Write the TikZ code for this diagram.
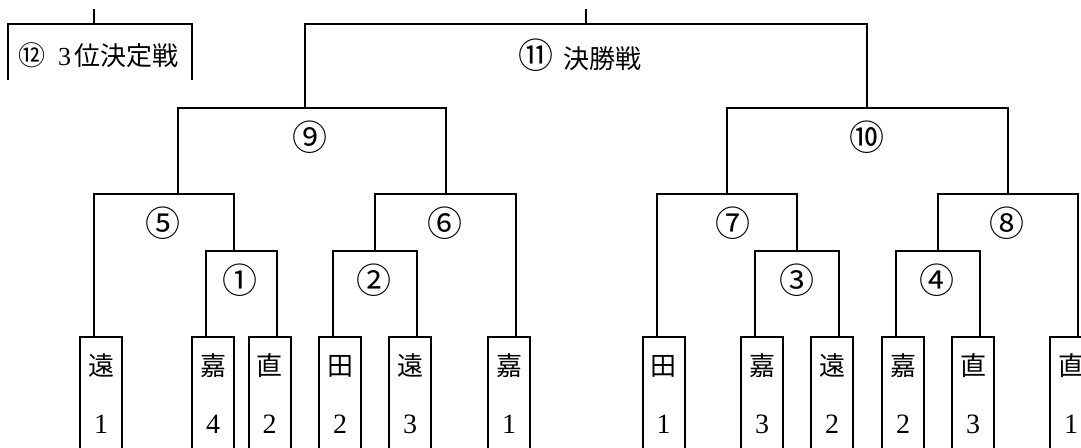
\documentclass[tikz,border=0pt]{standalone}
\usepackage{fontspec}
\newfontfamily\cjk{Noto Sans CJK JP}
\newfontfamily\dgfont{Liberation Serif}
\begin{document}
\begin{tikzpicture}[x=1pt,y=-1pt,
  ln/.style={line width=2pt, line join=miter},
  team/.style={draw, line width=2pt, minimum width=42pt, minimum height=130pt,
    anchor=north, inner sep=0pt, outer sep=0pt},
  ch/.style={font=\cjk\fontsize{26}{26}\selectfont, inner sep=0pt},
  dg/.style={font=\dgfont\fontsize{28}{28}\selectfont, inner sep=0pt},
  circ/.style={font=\cjk\fontsize{35}{35}\selectfont, inner sep=0pt},
  ttl/.style={font=\cjk\fontsize{26}{26}\selectfont, inner sep=0pt, anchor=west}]
\useasboundingbox (0,0) rectangle (1081,447);
\clip (0,0) rectangle (1081,447);
\fill[white] (0,0) rectangle (1081,447);

% teams
\node[team] (b1) at (101,337) {};
\node[team] (b2) at (213,337) {};
\node[team] (b3) at (269.5,337) {};
\node[team] (b4) at (340,337) {};
\node[team] (b5) at (410,337) {};
\node[team] (b6) at (509,337) {};
\node[team] (b7) at (663.5,337) {};
\node[team] (b8) at (762,337) {};
\node[team] (b9) at (832,337) {};
\node[team] (b10) at (903,337) {};
\node[team] (b11) at (973,337) {};
\node[team] (b12) at (1071,337) {};

\foreach \b/\c/\d in {b1/遠/1, b2/嘉/4, b3/直/2, b4/田/2, b5/遠/3, b6/嘉/1,
                      b7/田/1, b8/嘉/3, b9/遠/2, b10/嘉/2, b11/直/3, b12/直/1}{
  \node[ch] (\b c) at ([yshift=-29pt]\b.north) {\c};
  \node[dg] (\b d) at ([yshift=-87pt]\b.north) {\d};
}

% bracket joints
\coordinate (m1) at (233.7,250.7);
\coordinate (m2) at (375,250.7);
\coordinate (m3) at (797,250.7);
\coordinate (m4) at (938,250.7);
\coordinate (m5) at (178,194);
\coordinate (m6) at (445.5,194);
\coordinate (m7) at (727,194);
\coordinate (m8) at (1008,194);
\coordinate (m9) at (305,108);
\coordinate (m10) at (866.5,108);
\coordinate (m11) at (586,24);
\coordinate (t11) at (586,9);
\coordinate (m12) at (93.7,24);
\coordinate (t12) at (93.7,9);
\coordinate (e12a) at (8.3,80);
\coordinate (e12b) at (191.7,80);

% first round
\draw[ln] ([xshift=-7pt]b2.north) |- (m1) -| ([xshift=7pt]b3.north);
\draw[ln] ([xshift=-7pt]b4.north) |- (m2) -| ([xshift=7pt]b5.north);
\draw[ln] ([xshift=-7pt]b8.north) |- (m3) -| ([xshift=7pt]b9.north);
\draw[ln] ([xshift=-7pt]b10.north) |- (m4) -| ([xshift=7pt]b11.north);
% second round
\draw[ln] ([xshift=-7pt]b1.north) |- (m5) -| (m1);
\draw[ln] (m2) |- (m6) -| ([xshift=7pt]b6.north);
\draw[ln] ([xshift=-7pt]b7.north) |- (m7) -| (m3);
\draw[ln] (m4) |- (m8) -| ([xshift=7pt]b12.north);
% semi finals
\draw[ln] (m5) |- (m9) -| (m6);
\draw[ln] (m7) |- (m10) -| (m8);
% final
\draw[ln] (m9) |- (m11) -| (m10);
\draw[ln] (m11) -- (t11);
% third place
\draw[ln] (e12a) |- (m12) -| (e12b);
\draw[ln] (m12) -- (t12);

% labels
\node[circ] (l1) at (240,280) {①};
\node[circ] (l2) at (374,280) {②};
\node[circ] (l3) at (797,280) {③};
\node[circ] (l4) at (937,280) {④};
\node[circ] (l5) at (163,223) {⑤};
\node[circ] (l6) at (445,223) {⑥};
\node[circ] (l7) at (733,223) {⑦};
\node[circ] (l8) at (1007,223) {⑧};
\node[circ] (l9) at (310,137) {⑨};
\node[circ] (l10) at (866.7,137) {⑩};
\node[ttl] (l11) at (518.5,55) {{\fontsize{35}{35}\selectfont ⑪}\hspace{10pt}決勝戦};
\node[ttl] (l12) at (18,55) {{\fontsize{27}{27}\selectfont ⑫}\hspace{13pt}{\dgfont 3}\hspace{3pt}位決定戦};
\end{tikzpicture}
\end{document}
